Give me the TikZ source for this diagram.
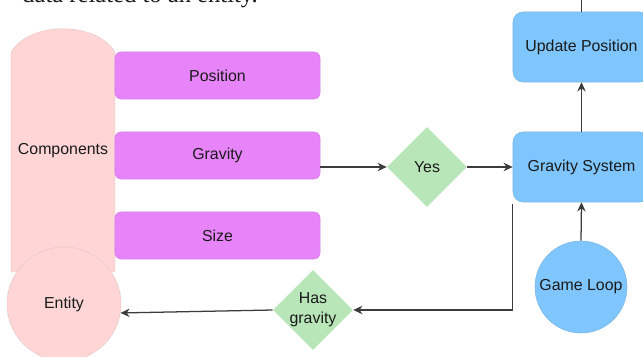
\documentclass[tikz,border=0pt]{standalone}
\usepackage{fontspec}
\setmainfont{Liberation Sans}
\newfontfamily\bodyserif{Liberation Serif}
\usetikzlibrary{shapes.geometric,arrows.meta}

\definecolor{entitypink}{HTML}{FFD5D5}
\definecolor{comppurple}{HTML}{E884FA}
\definecolor{checkgreen}{HTML}{B9E6B9}
\definecolor{sysblue}{HTML}{7FC6FF}
\definecolor{inkdark}{HTML}{1A1A1A}

\tikzset{
  every node/.style={font=\fontsize{11.3}{14}\selectfont, text=inkdark},
  compbox/.style={rectangle, rounded corners=0.15cm, fill=comppurple, draw=comppurple!85!gray,
    minimum width=5.125cm, minimum height=1.175cm, inner sep=0pt},
  sysbox/.style={rectangle, rounded corners=0.25cm, fill=sysblue, draw=sysblue!80!gray,
    minimum width=3.425cm, minimum height=1.75cm, inner sep=0pt},
  decision/.style={diamond, fill=checkgreen, minimum width=2cm, minimum height=2cm, inner sep=0pt},
  blob/.style={circle, inner sep=0pt},
  flow/.style={draw=inkdark!85, line width=0.9pt, -{Stealth[length=6.5pt,width=6pt]}}
}

\begin{document}
\begin{tikzpicture}[x=0.025cm,y=-0.025cm]
\useasboundingbox (0,0) rectangle (643,356);
\clip (0,0) rectangle (643,356);

%TEXT ABOVE
\node[anchor=base west, inner sep=0pt, font=\bodyserif\fontsize{17.5}{20}\selectfont] (caption) at (22,2.5) {data related to an entity.};

%ENTITY AND ITS COMPONENTS
\fill[entitypink, draw=entitypink!80!gray, line width=0.3pt] (11,272) -- (11,52) .. controls (30,21) and (96,21) .. (115,52) -- (115,272) -- cycle;
\node (components) at (63,151) {Components};
\node[blob, fill=entitypink, draw=entitypink!80!gray, line width=0.3pt, minimum size=2.85cm] (entity) at (64,304) {Entity};

\node[compbox] (position) at (217.5,75.5) {Position};
\node[compbox] (gravity) at (217.5,155.5) {Gravity};
\node[compbox] (size) at (217.5,235.5) {Size};

%CHECKS
\node[decision] (yes) at (427,167) {};
\node (yeslabel) at (yes) {Yes};
\node[decision] (hasgravity) at (313,310) {};
\node[align=center] (haslabel) at (hasgravity) {Has\\gravity};

%SYSTEMS
\node[sysbox] (gravsys) at (581.5,167) {Gravity System};
\node[sysbox] (update) at (581.5,47) {Update Position};
\node[blob, fill=sysblue, draw=sysblue!80!gray, minimum size=2.3cm] (gameloop) at (581,287) {Game Loop};

%ARROWS
\coordinate (fromabove) at (581.5,0);
\draw[draw=inkdark!85, line width=0.9pt] (fromabove) -- (update.north);
\draw[flow] (yes.west -| gravity.east) -- (yes.west);
\draw[flow] (yes.east) -- (gravsys.west);
\draw[flow] (gravsys.north) -- (update.south);
\draw[flow] (gameloop.north) -- (gravsys.south);
\draw[flow] ([yshift=-0.05cm]gravsys.south west) |- (hasgravity.east);
\draw[flow] (hasgravity.west) -- (entity.-9);
\end{tikzpicture}
\end{document}
